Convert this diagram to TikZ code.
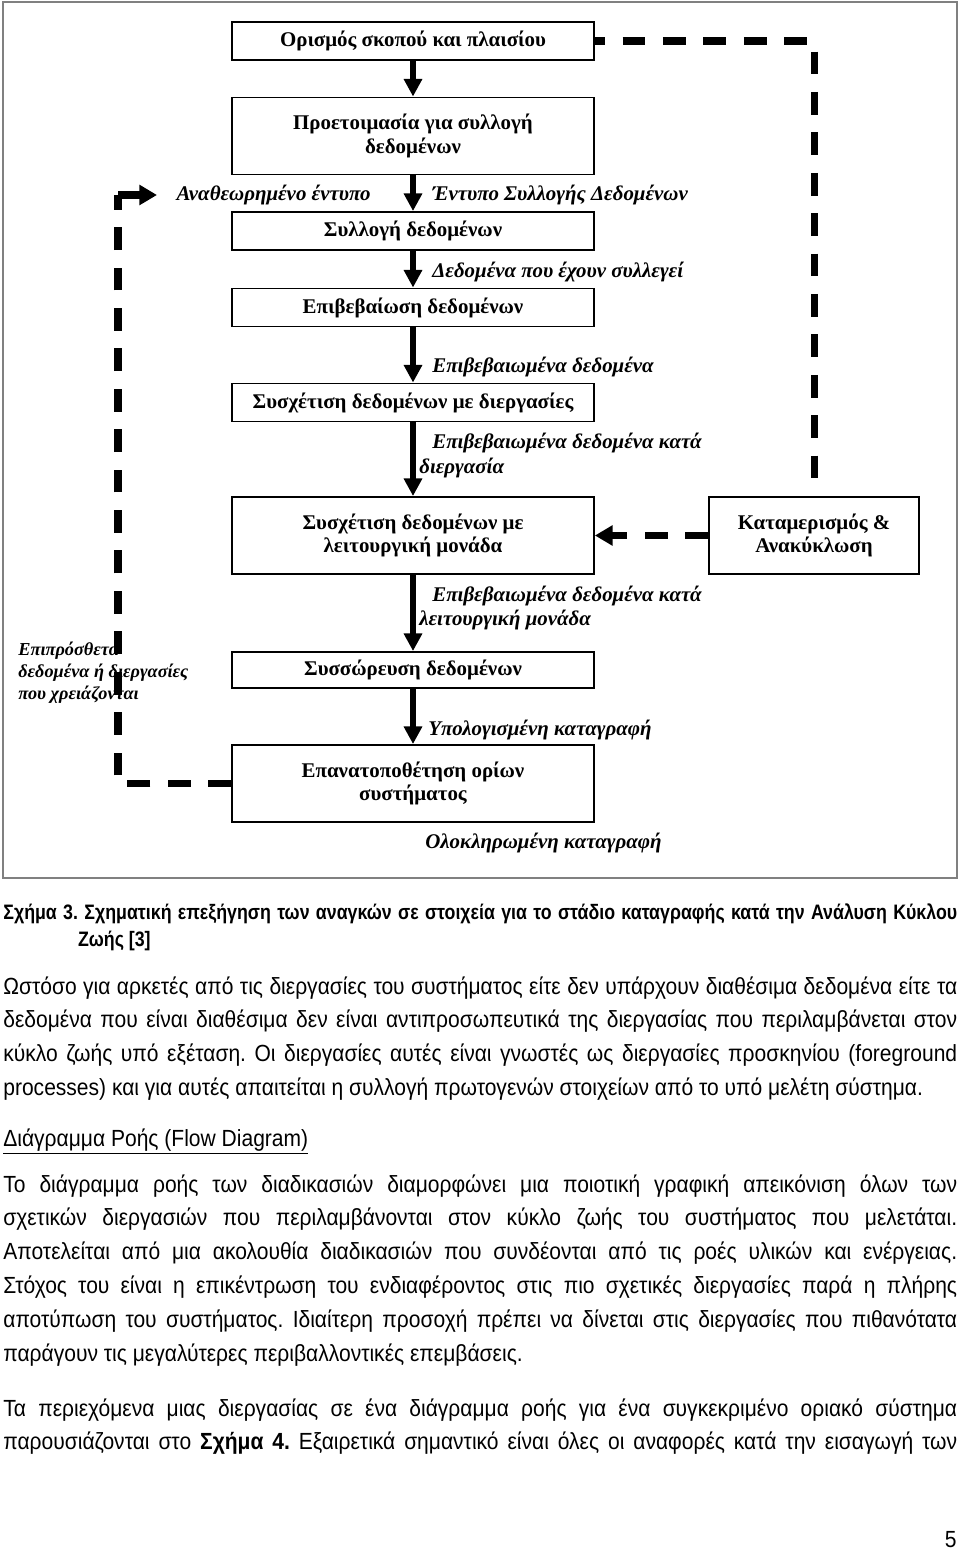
\documentclass[tikz,border=0pt]{standalone}
\usepackage{fontspec}
\setmainfont{Liberation Serif}
\newfontfamily\bodyfont[FakeStretch=0.9]{Liberation Sans}
\newfontfamily\narrowfont[FakeStretch=0.85]{Liberation Sans}
\usetikzlibrary{arrows.meta}

\newcommand{\boxfont}{\fontsize{11.9}{13.6}\selectfont\bfseries}
\newcommand{\labelfont}{\fontsize{11.9}{14.2}\selectfont\bfseries\itshape}
\newcommand{\notefont}{\fontsize{10.4}{12.5}\selectfont\bfseries\itshape}
\newcommand{\parafont}{\bodyfont\fontsize{13.3}{19.3}\selectfont\frenchspacing\tolerance=9999 \hbadness=10000 }
\newcommand{\capfont}{\narrowfont\bfseries\fontsize{11.9}{15.9}\selectfont\frenchspacing\tolerance=9999 \hbadness=10000 }

\begin{document}
\begin{tikzpicture}[x=0.02cm, y=-0.02cm,
    stagebox/.style={rectangle, draw=black, line width=1.1pt, minimum width=7.24cm, minimum height=0.76cm, align=center, font=\boxfont, inner sep=0pt},
    tallbox/.style={stagebox, minimum height=1.54cm},
    flowlabel/.style={anchor=west, inner sep=0pt, align=left, font=\labelfont}
    ]
    \tikzset{flow/.style={line width=3.4pt, -{Triangle[length=10pt,width=10pt]}}}
    \tikzset{feedback/.style={line width=4pt, dash pattern=on 13pt off 10pt}}
    \tikzset{bodytext/.style={anchor=base west, inner sep=0pt, text width=19.08cm, align=justify, font=\parafont}}
    \useasboundingbox (0,0) rectangle (960,1550);
    \draw[gray, line width=0.6pt] (3,2) rectangle (957,878);
    %
    %boxes
    %
    \node[stagebox] (scope) at (413,41) {Ορισμός σκοπού και πλαισίου};
    \node[tallbox] (prep) at (413,136) {Προετοιμασία για συλλογή\\δεδομένων};
    \node[stagebox] (collect) at (413,231) {Συλλογή δεδομένων};
    \node[stagebox] (validate) at (413,307.5) {Επιβεβαίωση δεδομένων};
    \node[stagebox] (relproc) at (413,402.5) {Συσχέτιση δεδομένων με διεργασίες};
    \node[tallbox] (relunit) at (413,535.5) {Συσχέτιση δεδομένων με\\λειτουργική μονάδα};
    \node[stagebox, minimum height=0.72cm] (aggr) at (413,670) {Συσσώρευση δεδομένων};
    \node[tallbox] (bound) at (413,783.5) {Επανατοποθέτηση ορίων\\συστήματος};
    \node[tallbox, minimum width=4.2cm] (alloc) at (814,535.5) {Καταμερισμός \&\\Ανακύκλωση};
    %
    %labels
    %
    \node[flowlabel, anchor=east] (revlbl) at (371,195) {Αναθεωρημένο έντυπο};
    \node[flowlabel] (formlbl) at (432,195) {Έντυπο Συλλογής Δεδομένων};
    \node[flowlabel] (rawlbl) at (432,272) {Δεδομένα που έχουν συλλεγεί};
    \node[flowlabel] (vallbl) at (432,367) {Επιβεβαιωμένα δεδομένα};
    \node[flowlabel] (proclbl) at (419,455.5) {\hspace*{7.4pt}Επιβεβαιωμένα δεδομένα κατά\\διεργασία};
    \node[flowlabel] (unitlbl) at (419,608) {\hspace*{7.4pt}Επιβεβαιωμένα δεδομένα κατά\\λειτουργική μονάδα};
    \node[flowlabel] (calclbl) at (428,730) {Υπολογισμένη καταγραφή};
    \node[flowlabel] (donelbl) at (425,843) {Ολοκληρωμένη καταγραφή};
    \node[flowlabel, font=\notefont] (extralbl) at (18,673) {Επιπρόσθετα\\δεδομένα ή διεργασίες\\που χρειάζονται};
    %
    %arrows
    %
    \draw[flow] (scope) -- (prep);
    \draw[flow] (prep) -- (collect);
    \draw[flow] (collect) -- (validate);
    \draw[flow] (validate) -- (relproc);
    \draw[flow] (relproc) -- (relunit);
    \draw[flow] (relunit) -- (aggr);
    \draw[flow] (aggr) -- (bound);
    %
    %feedback loops
    %
    \coordinate (topcorner) at (814,41);
    \coordinate (revcorner) at (118,195);
    \coordinate (revend) at (157,195);
    \draw[feedback, dash phase=7.3pt] (scope.east) -- (topcorner);
    \draw[feedback, dash phase=17pt] (topcorner) -- (alloc.north);
    \draw[feedback, -{Triangle[length=10pt,width=11pt]}] (alloc.west) -- (relunit.east);
    \draw[feedback] (bound.west) -| (revcorner);
    \draw[feedback, -{Triangle[length=10pt,width=11pt]}] (revcorner) -- (revend);
    %
    %page text
    %
    \node[bodytext, font=\capfont] (caption) at (3,919) {\hangindent=42.5pt\hangafter=1 Σχήμα 3. Σχηματική επεξήγηση των αναγκών σε στοιχεία για το στάδιο καταγραφής κατά την Ανάλυση Κύκλου\linebreak Ζωής [3]\par};
    \node[bodytext] (para1) at (3,994) {Ωστόσο για αρκετές από τις διεργασίες του συστήματος είτε δεν υπάρχουν διαθέσιμα δεδομένα είτε τα\linebreak
    δεδομένα που είναι διαθέσιμα δεν είναι αντιπροσωπευτικά της διεργασίας που περιλαμβάνεται στον\linebreak
    κύκλο ζωής υπό εξέταση. Οι διεργασίες αυτές είναι γνωστές ως διεργασίες προσκηνίου (foreground\linebreak
    processes) και για αυτές απαιτείται η συλλογή πρωτογενών στοιχείων από το υπό μελέτη σύστημα.};
    \node[bodytext] (flowhead) at (3,1146) {\underline{Διάγραμμα Ροής (Flow Diagram)}};
    \node[bodytext] (para2) at (3,1192) {Το διάγραμμα ροής των διαδικασιών διαμορφώνει μια ποιοτική γραφική απεικόνιση όλων των\linebreak
    σχετικών διεργασιών που περιλαμβάνονται στον κύκλο ζωής του συστήματος που μελετάται.\linebreak
    Αποτελείται από μια ακολουθία διαδικασιών που συνδέονται από τις ροές υλικών και ενέργειας.\linebreak
    Στόχος του είναι η επικέντρωση του ενδιαφέροντος στις πιο σχετικές διεργασίες παρά η πλήρης\linebreak
    αποτύπωση του συστήματος. Ιδιαίτερη προσοχή πρέπει να δίνεται στις διεργασίες που πιθανότατα\linebreak
    παράγουν τις μεγαλύτερες περιβαλλοντικές επεμβάσεις.};
    \node[bodytext] (para3) at (3,1416) {\parfillskip=0pt Τα περιεχόμενα μιας διεργασίας σε ένα διάγραμμα ροής για ένα συγκεκριμένο οριακό σύστημα\linebreak
    παρουσιάζονται στο \textbf{Σχήμα 4.} Εξαιρετικά σημαντικό είναι όλες οι αναφορές κατά την εισαγωγή των\par};
    \node[anchor=base east, inner sep=0pt, font=\parafont] (pagenum) at (957,1547) {5};
\end{tikzpicture}
\end{document}
